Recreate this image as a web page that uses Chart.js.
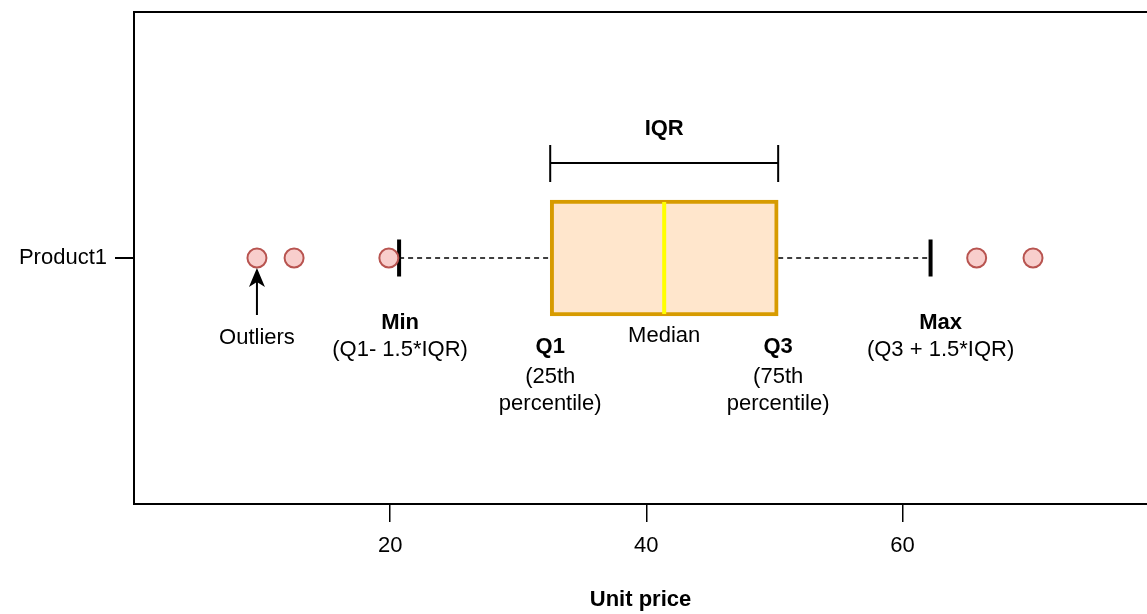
<!DOCTYPE html>
<html>
<head>
<meta charset="utf-8">
<script src="https://cdn.jsdelivr.net/npm/chart.js@4"></script>
<style>
  html, body { margin: 0; padding: 0; background: #fff; }
  #wrap { width: 1147px; height: 614px; }
</style>
</head>
<body>
<div id="wrap"><canvas id="boxChart" width="1147" height="614"></canvas></div>
<script>
// ================= DATA =================
const categories = ["Product1"];
const boxQuartiles = [32.5, 50.3];      // Q1, Q3
const medianValue = 41.4;
const whiskerMin = 20.7;
const whiskerMax = 62.2;
const outliers = [9.6, 12.5, 19.9, 65.8, 70.2];
const tickValues = [20, 40, 60];
const axisMin = 0;
const axisMax = 79.1;

const FONT = "'Liberation Sans', Arial, sans-serif";
const FSIZE = 22;
const cat = categories[0];

// ================= ANNOTATIONS =================
const labelsPlugin = {
  id: "boxLabels",
  afterDatasetsDraw(chart) {
    const { ctx, chartArea } = chart;
    const x = chart.scales.x;
    const q1 = x.getPixelForValue(boxQuartiles[0]);
    const q3 = x.getPixelForValue(boxQuartiles[1]);
    const med = x.getPixelForValue(medianValue);
    const mn = x.getPixelForValue(whiskerMin);
    const mx = x.getPixelForValue(whiskerMax);
    const out = x.getPixelForValue(outliers[0]);

    ctx.save();
    ctx.fillStyle = "#000";
    ctx.strokeStyle = "#000";
    ctx.textAlign = "center";
    ctx.textBaseline = "middle";

    const text = (t, px, py, bold) => {
      ctx.font = (bold ? "bold " : "") + FSIZE + "px " + FONT;
      ctx.fillText(t, px, py);
    };

    // IQR bracket
    ctx.lineWidth = 2;
    ctx.beginPath();
    ctx.moveTo(q1, 163); ctx.lineTo(q3, 163);
    ctx.moveTo(q1, 145); ctx.lineTo(q1, 182);
    ctx.moveTo(q3, 145); ctx.lineTo(q3, 182);
    ctx.stroke();
    text("IQR", (q1 + q3) / 2, 129, true);

    text("Min", mn + 1, 323, true);
    text("(Q1- 1.5*IQR)", mn + 1, 350, false);
    text("Max", mx + 10, 323, true);
    text("(Q3 + 1.5*IQR)", mx + 10, 350, false);

    text("Q1", q1, 347, true);
    text("(25th", q1, 377, false);
    text("percentile)", q1, 404, false);
    text("Q3", q3, 347, true);
    text("(75th", q3, 377, false);
    text("percentile)", q3, 404, false);
    text("Median", med, 336, false);

    // outliers arrow
    ctx.lineWidth = 2;
    ctx.beginPath();
    ctx.moveTo(out, 315); ctx.lineTo(out, 280);
    ctx.stroke();
    ctx.beginPath();
    ctx.moveTo(out, 268); ctx.lineTo(out - 8, 287); ctx.lineTo(out, 282); ctx.lineTo(out + 8, 287);
    ctx.closePath();
    ctx.fill();
    text("Outliers", out, 338, false);

    // frame (left, top, bottom)
    ctx.lineWidth = 2;
    ctx.beginPath();
    ctx.moveTo(chartArea.right + 2, chartArea.top);
    ctx.lineTo(chartArea.left, chartArea.top);
    ctx.lineTo(chartArea.left, chartArea.bottom);
    ctx.stroke();
    ctx.restore();
  }
};

// ================= CHART =================
new Chart(document.getElementById("boxChart"), {
  type: "bar",
  data: {
    labels: categories,
    datasets: [
      {
        type: "line",
        data: [{ x: whiskerMin, y: cat }, { x: boxQuartiles[0], y: cat }],
        borderColor: "#000",
        borderWidth: 1.5,
        borderDash: [5, 4],
        pointRadius: 0,
        order: 3
      },
      {
        type: "line",
        data: [{ x: boxQuartiles[1], y: cat }, { x: whiskerMax, y: cat }],
        borderColor: "#000",
        borderWidth: 1.5,
        borderDash: [5, 4],
        pointRadius: 0,
        order: 3
      },
      {
        type: "bar",
        indexAxis: "y",
        data: [boxQuartiles],
        backgroundColor: "#ffe6cc",
        borderColor: "#d79b00",
        borderWidth: 4,
        borderSkipped: false,
        barThickness: 116,
        order: 2
      },
      {
        type: "scatter",
        data: [{ x: medianValue, y: cat }],
        pointStyle: "line",
        rotation: 90,
        radius: 56,
        borderColor: "#ffff00",
        borderWidth: 4,
        order: 1
      },
      {
        type: "scatter",
        data: [{ x: whiskerMin, y: cat }, { x: whiskerMax, y: cat }],
        pointStyle: "line",
        rotation: 90,
        radius: 18.5,
        borderColor: "#000",
        borderWidth: 4,
        order: 1
      },
      {
        type: "scatter",
        data: outliers.map(v => ({ x: v, y: cat })),
        pointStyle: "circle",
        radius: 9.5,
        backgroundColor: "#f8cecc",
        borderColor: "#b85450",
        borderWidth: 2,
        order: 0
      }
    ]
  },
  options: {
    responsive: false,
    animation: false,
    layout: { autoPadding: false, padding: { top: 12, left: 0, right: 0, bottom: 0 } },
    plugins: {
      legend: { display: false },
      tooltip: { enabled: false }
    },
    scales: {
      x: {
        type: "linear",
        min: axisMin,
        max: axisMax,
        offset: false,
        afterBuildTicks: (scale) => { scale.ticks = tickValues.map(v => ({ value: v })); },
        afterFit: (scale) => { scale.height = 110; scale.paddingLeft = 0; scale.paddingRight = 0; },
        grid: { offset: false, drawOnChartArea: false, drawTicks: true, tickLength: 18, color: "#000", lineWidth: 1.5 },
        border: { display: true, color: "#000", width: 2 },
        ticks: { color: "#000", padding: 11, font: { family: FONT, size: FSIZE }, maxRotation: 0 },
        title: {
          display: true,
          text: "Unit price",
          color: "#000",
          font: { family: FONT, size: FSIZE, weight: "bold" },
          padding: { top: 0, bottom: 1 }
        }
      },
      y: {
        type: "category",
        labels: categories,
        offset: true,
        afterFit: (scale) => { scale.width = 134; scale.paddingTop = 0; scale.paddingBottom = 0; },
        grid: { offset: false, drawOnChartArea: false, drawTicks: true, tickLength: 19, color: "#000", lineWidth: 2 },
        border: { display: true, color: "#000", width: 2 },
        ticks: { color: "#000", padding: 8, font: { family: FONT, size: FSIZE } }
      }
    }
  },
  plugins: [labelsPlugin]
});
</script>
</body>
</html>
